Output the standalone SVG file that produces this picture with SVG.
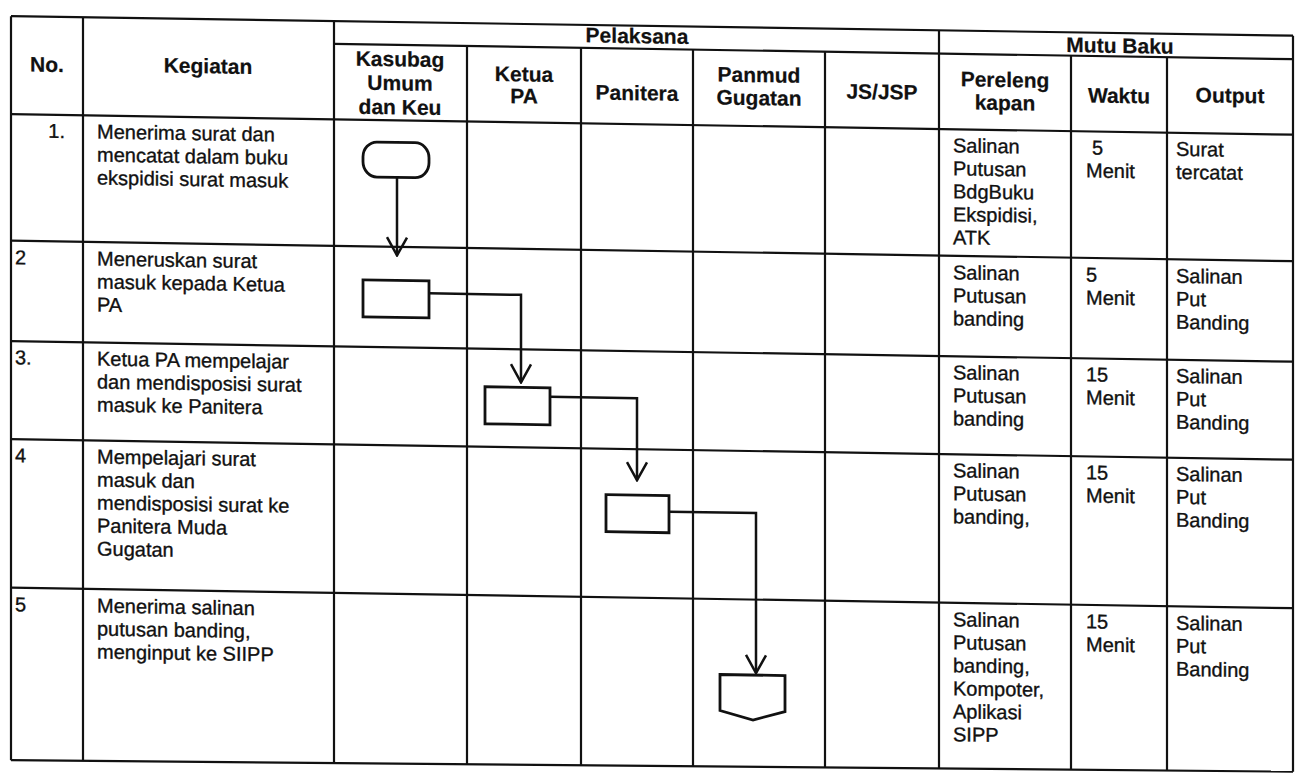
<svg xmlns="http://www.w3.org/2000/svg" width="1297" height="776" viewBox="0 0 1297 776">
<style>
.t{font-family:"Liberation Sans",Arial,sans-serif;font-size:20px;fill:#111;stroke:#111;stroke-width:0.35}
.h{font-weight:bold;font-size:21px;text-anchor:middle;stroke-width:0.2}
.grid line{stroke:#111;stroke-width:2.2}
.shape{fill:#fff;stroke:#111;stroke-width:2.8}
.conn{fill:none;stroke:#111;stroke-width:2.5}
</style>
<defs>
<marker id="arr" markerUnits="userSpaceOnUse" viewBox="-20 -12 22 24" refX="0" refY="0" markerWidth="22" markerHeight="24" orient="auto">
<path d="M-18,-10 L0,0 L-18,10" fill="none" stroke="#111" stroke-width="2.5"/>
</marker>
</defs>
<rect width="1297" height="776" fill="#fff"/>
<g transform="skewY(0.917)">
<g id="grid" class="grid">
<line x1="11" y1="16" x2="1293" y2="15"/>
<line x1="334" y1="38.5" x2="1293" y2="38.5"/>
<line x1="11" y1="114" x2="1293" y2="114"/>
<line x1="11" y1="240.5" x2="1293" y2="240.5"/>
<line x1="11" y1="341" x2="1293" y2="341"/>
<line x1="11" y1="439" x2="1293" y2="439"/>
<line x1="11" y1="587.5" x2="1293" y2="587.5"/>
<line x1="11" y1="760" x2="1293" y2="751"/>
<line x1="11" y1="16" x2="11" y2="760"/>
<line x1="83" y1="16" x2="83" y2="759.5"/>
<line x1="334" y1="15.5" x2="334" y2="757.7"/>
<line x1="467" y1="38.5" x2="467" y2="756.8"/>
<line x1="581" y1="38.5" x2="581" y2="756"/>
<line x1="693" y1="38.5" x2="693" y2="755.2"/>
<line x1="825" y1="38.5" x2="825" y2="754.3"/>
<line x1="939" y1="15.3" x2="939" y2="753.5"/>
<line x1="1071" y1="38.5" x2="1071" y2="752.6"/>
<line x1="1167" y1="38.5" x2="1167" y2="751.9"/>
<line x1="1293" y1="15" x2="1293" y2="751"/>
</g>
<g id="header" class="t h">
<text x="47" y="71">No.</text>
<text x="208" y="70">Kegiatan</text>
<text x="637" y="33">Pelaksana</text>
<text x="1120" y="35">Mutu Baku</text>
<text x="400" y="60">Kasubag</text>
<text x="400" y="84">Umum</text>
<text x="400" y="108">dan Keu</text>
<text x="524" y="73">Ketua</text>
<text x="524" y="95">PA</text>
<text x="637" y="90">Panitera</text>
<text x="759" y="70">Panmud</text>
<text x="759" y="93">Gugatan</text>
<text x="882" y="85">JS/JSP</text>
<text x="1005" y="71">Pereleng</text>
<text x="1005" y="94">kapan</text>
<text x="1119" y="85">Waktu</text>
<text x="1230" y="83">Output</text>
</g>
<g id="row1" class="t">
<text x="65" y="137" text-anchor="end">1.</text>
<text x="97" y="137">Menerima surat dan</text>
<text x="97" y="160">mencatat dalam buku</text>
<text x="97" y="183">ekspidisi surat masuk</text>
<text x="953" y="137">Salinan</text>
<text x="953" y="160">Putusan</text>
<text x="953" y="183">BdgBuku</text>
<text x="953" y="206">Ekspidisi,</text>
<text x="953" y="229">ATK</text>
<text x="1092" y="137">5</text>
<text x="1086" y="160">Menit</text>
<text x="1176" y="137">Surat</text>
<text x="1176" y="160">tercatat</text>
</g>
<g id="row2" class="t">
<text x="15" y="264">2</text>
<text x="97" y="264">Meneruskan surat</text>
<text x="97" y="287">masuk kepada Ketua</text>
<text x="97" y="310">PA</text>
<text x="953" y="264">Salinan</text>
<text x="953" y="287">Putusan</text>
<text x="953" y="310">banding</text>
<text x="1086" y="264">5</text>
<text x="1086" y="287">Menit</text>
<text x="1176" y="264">Salinan</text>
<text x="1176" y="287">Put</text>
<text x="1176" y="310">Banding</text>
</g>
<g id="row3" class="t">
<text x="15" y="364">3.</text>
<text x="97" y="364">Ketua PA mempelajar</text>
<text x="97" y="387">dan mendisposisi surat</text>
<text x="97" y="410">masuk ke Panitera</text>
<text x="953" y="364">Salinan</text>
<text x="953" y="387">Putusan</text>
<text x="953" y="410">banding</text>
<text x="1086" y="364">15</text>
<text x="1086" y="387">Menit</text>
<text x="1176" y="364">Salinan</text>
<text x="1176" y="387">Put</text>
<text x="1176" y="410">Banding</text>
</g>
<g id="row4" class="t">
<text x="15" y="462">4</text>
<text x="97" y="462">Mempelajari surat</text>
<text x="97" y="485">masuk dan</text>
<text x="97" y="508">mendisposisi surat ke</text>
<text x="97" y="531">Panitera Muda</text>
<text x="97" y="554">Gugatan</text>
<text x="953" y="462">Salinan</text>
<text x="953" y="485">Putusan</text>
<text x="953" y="508">banding,</text>
<text x="1086" y="462">15</text>
<text x="1086" y="485">Menit</text>
<text x="1176" y="462">Salinan</text>
<text x="1176" y="485">Put</text>
<text x="1176" y="508">Banding</text>
</g>
<g id="row5" class="t">
<text x="15" y="611">5</text>
<text x="97" y="611">Menerima salinan</text>
<text x="97" y="634">putusan banding,</text>
<text x="97" y="657">menginput ke SIIPP</text>
<text x="953" y="611">Salinan</text>
<text x="953" y="634">Putusan</text>
<text x="953" y="657">banding,</text>
<text x="953" y="680">Kompoter,</text>
<text x="953" y="703">Aplikasi</text>
<text x="953" y="726">SIPP</text>
<text x="1086" y="611">15</text>
<text x="1086" y="634">Menit</text>
<text x="1176" y="611">Salinan</text>
<text x="1176" y="634">Put</text>
<text x="1176" y="657">Banding</text>
</g>
<g id="connectors">
<path class="conn" d="M397,171 V249" marker-end="url(#arr)"/>
<path class="conn" d="M429,286.5 H521 V374" marker-end="url(#arr)"/>
<path class="conn" d="M550,388 H637 V470" marker-end="url(#arr)"/>
<path class="conn" d="M669,501 H756 V661" marker-end="url(#arr)"/>
</g>
<g id="n1"><rect class="shape" x="363" y="136" width="66" height="35" rx="14" ry="15"/></g>
<g id="n2"><rect class="shape" x="363" y="274" width="66" height="37"/></g>
<g id="n3"><rect class="shape" x="485" y="379" width="65" height="37"/></g>
<g id="n4"><rect class="shape" x="606" y="485" width="63" height="37"/></g>
<g id="n5"><path class="shape" d="M720,663 H785 V699 L753,708 L720,699 Z"/></g>
</g>
</svg>
